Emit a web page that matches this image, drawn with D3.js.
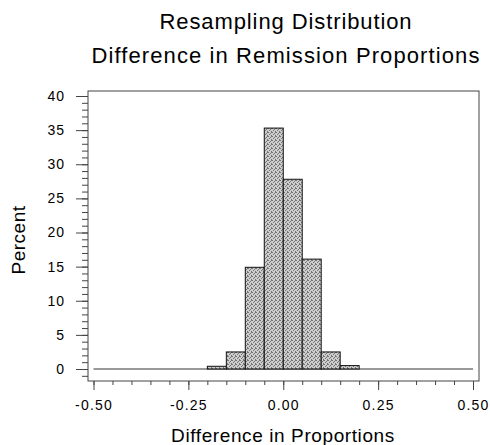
<!DOCTYPE html>
<html>
<head>
<meta charset="utf-8">
<script src="https://cdn.jsdelivr.net/npm/d3@7"></script>
<style>
  body { margin: 0; background: #fff; }
  text { font-family: "Liberation Sans", Arial, sans-serif; fill: #000; }
</style>
</head>
<body>
<svg id="chart" width="490" height="445"></svg>
<script>
// bins of width 0.05 (left edge) and percent of resamples in each
const binStart = [-0.20, -0.15, -0.10, -0.05, 0.00, 0.05, 0.10, 0.15];
const binWidth = 0.05;
const percents = [0.4, 2.5, 14.9, 35.3, 27.8, 16.1, 2.5, 0.5];

const xMajor = [-0.50, -0.25, 0.00, 0.25, 0.50];
const yMajor = [0, 5, 10, 15, 20, 25, 30, 35, 40];

const titles = ["Resampling Distribution", "Difference in Remission Proportions"];

const svg = d3.select("#chart");

const gx = d3.scaleLinear().domain([-0.5, 0.5]).range([93.5, 473]);
const gy = d3.scaleLinear().domain([0, 40]).range([369, 96]);

// stipple fill like the old raster shading
const defs = svg.append("defs");
const pat = defs.append("pattern")
    .attr("id", "stip")
    .attr("width", 4).attr("height", 4)
    .attr("patternUnits", "userSpaceOnUse");
pat.append("rect").attr("width", 4).attr("height", 4).attr("fill", "#cdcdcd");
[[0, 0], [2, 1], [1, 2], [3, 3], [3, 0]].forEach(function(p) {
    pat.append("rect").attr("x", p[0]).attr("y", p[1])
        .attr("width", 1).attr("height", 1).attr("fill", "#747474");
});

// titles
svg.selectAll(".title")
    .data(titles)
    .enter()
    .append("text")
    .attr("class", "title")
    .attr("x", 286)
    .attr("y", function(d, i) { return 29 + i * 34; })
    .attr("text-anchor", "middle")
    .style("font-size", "22px")
    .style("letter-spacing", function(d, i) { return i ? "1.1px" : "0.9px"; })
    .text(function(d) { return d; });

// frame
svg.append("rect")
    .attr("x", 88).attr("y", 91)
    .attr("width", 391).attr("height", 290)
    .attr("fill", "none")
    .attr("stroke", "#444")
    .attr("stroke-width", 1);

// y axis, minor ticks every 1
const yMinor = d3.range(-1, 41);
svg.append("g")
    .attr("transform", "translate(88,0)")
    .call(d3.axisLeft(gy).tickValues(yMinor).tickSize(6).tickFormat(""))
    .call(function(g) { g.select(".domain").remove(); })
    .selectAll("line").attr("stroke", "#444");

svg.append("g")
    .attr("transform", "translate(88,0)")
    .call(d3.axisLeft(gy).tickValues(yMajor).tickSize(12).tickPadding(11))
    .call(function(g) { g.select(".domain").remove(); })
    .call(function(g) {
        g.selectAll("line").attr("stroke", "#444");
        g.selectAll("text")
            .style("font-size", "14px")
            .style("letter-spacing", "1px")
            .attr("font-family", null);
    });

// x axis, minor ticks every 0.05
const xMinor = d3.range(-10, 11).map(function(k) { return k * 0.05; });
svg.append("g")
    .attr("transform", "translate(0,381)")
    .call(d3.axisBottom(gx).tickValues(xMinor).tickSize(4).tickFormat(""))
    .call(function(g) { g.select(".domain").remove(); })
    .selectAll("line").attr("stroke", "#444");

svg.append("g")
    .attr("transform", "translate(0,381)")
    .call(d3.axisBottom(gx).tickValues(xMajor).tickSize(9).tickPadding(10).tickFormat(d3.format(".2f")))
    .call(function(g) { g.select(".domain").remove(); })
    .call(function(g) {
        g.selectAll("line").attr("stroke", "#444");
        g.selectAll("text")
            .style("font-size", "14px")
            .style("letter-spacing", "1.2px")
            .attr("font-family", null)
            .text(function(d) { return d3.format(".2f")(d).replace("−", "-"); });
    });

// baseline for the empty bins
svg.append("line")
    .attr("x1", gx(-0.5)).attr("x2", gx(0.5))
    .attr("y1", gy(0)).attr("y2", gy(0))
    .attr("stroke", "#999")
    .attr("stroke-width", 2);

// bars
svg.selectAll(".bar")
    .data(binStart.map(function(s, i) { return [s, percents[i]]; }))
    .enter()
    .append("rect")
    .attr("class", "bar")
    .attr("x", function(d) { return gx(d[0]); })
    .attr("width", function(d) { return gx(d[0] + binWidth) - gx(d[0]); })
    .attr("y", function(d) { return gy(d[1]); })
    .attr("height", function(d) { return gy(0) - gy(d[1]); })
    .attr("fill", "url(#stip)")
    .attr("stroke", "#111")
    .attr("stroke-width", 1);

// axis labels
svg.append("text")
    .attr("x", 283)
    .attr("y", 442)
    .attr("text-anchor", "middle")
    .style("font-size", "19px")
    .style("letter-spacing", "0.6px")
    .text("Difference in Proportions");

svg.append("text")
    .attr("transform", "translate(25,240) rotate(-90)")
    .attr("text-anchor", "middle")
    .style("font-size", "19px")
    .style("letter-spacing", "0.5px")
    .text("Percent");
</script>
</body>
</html>
